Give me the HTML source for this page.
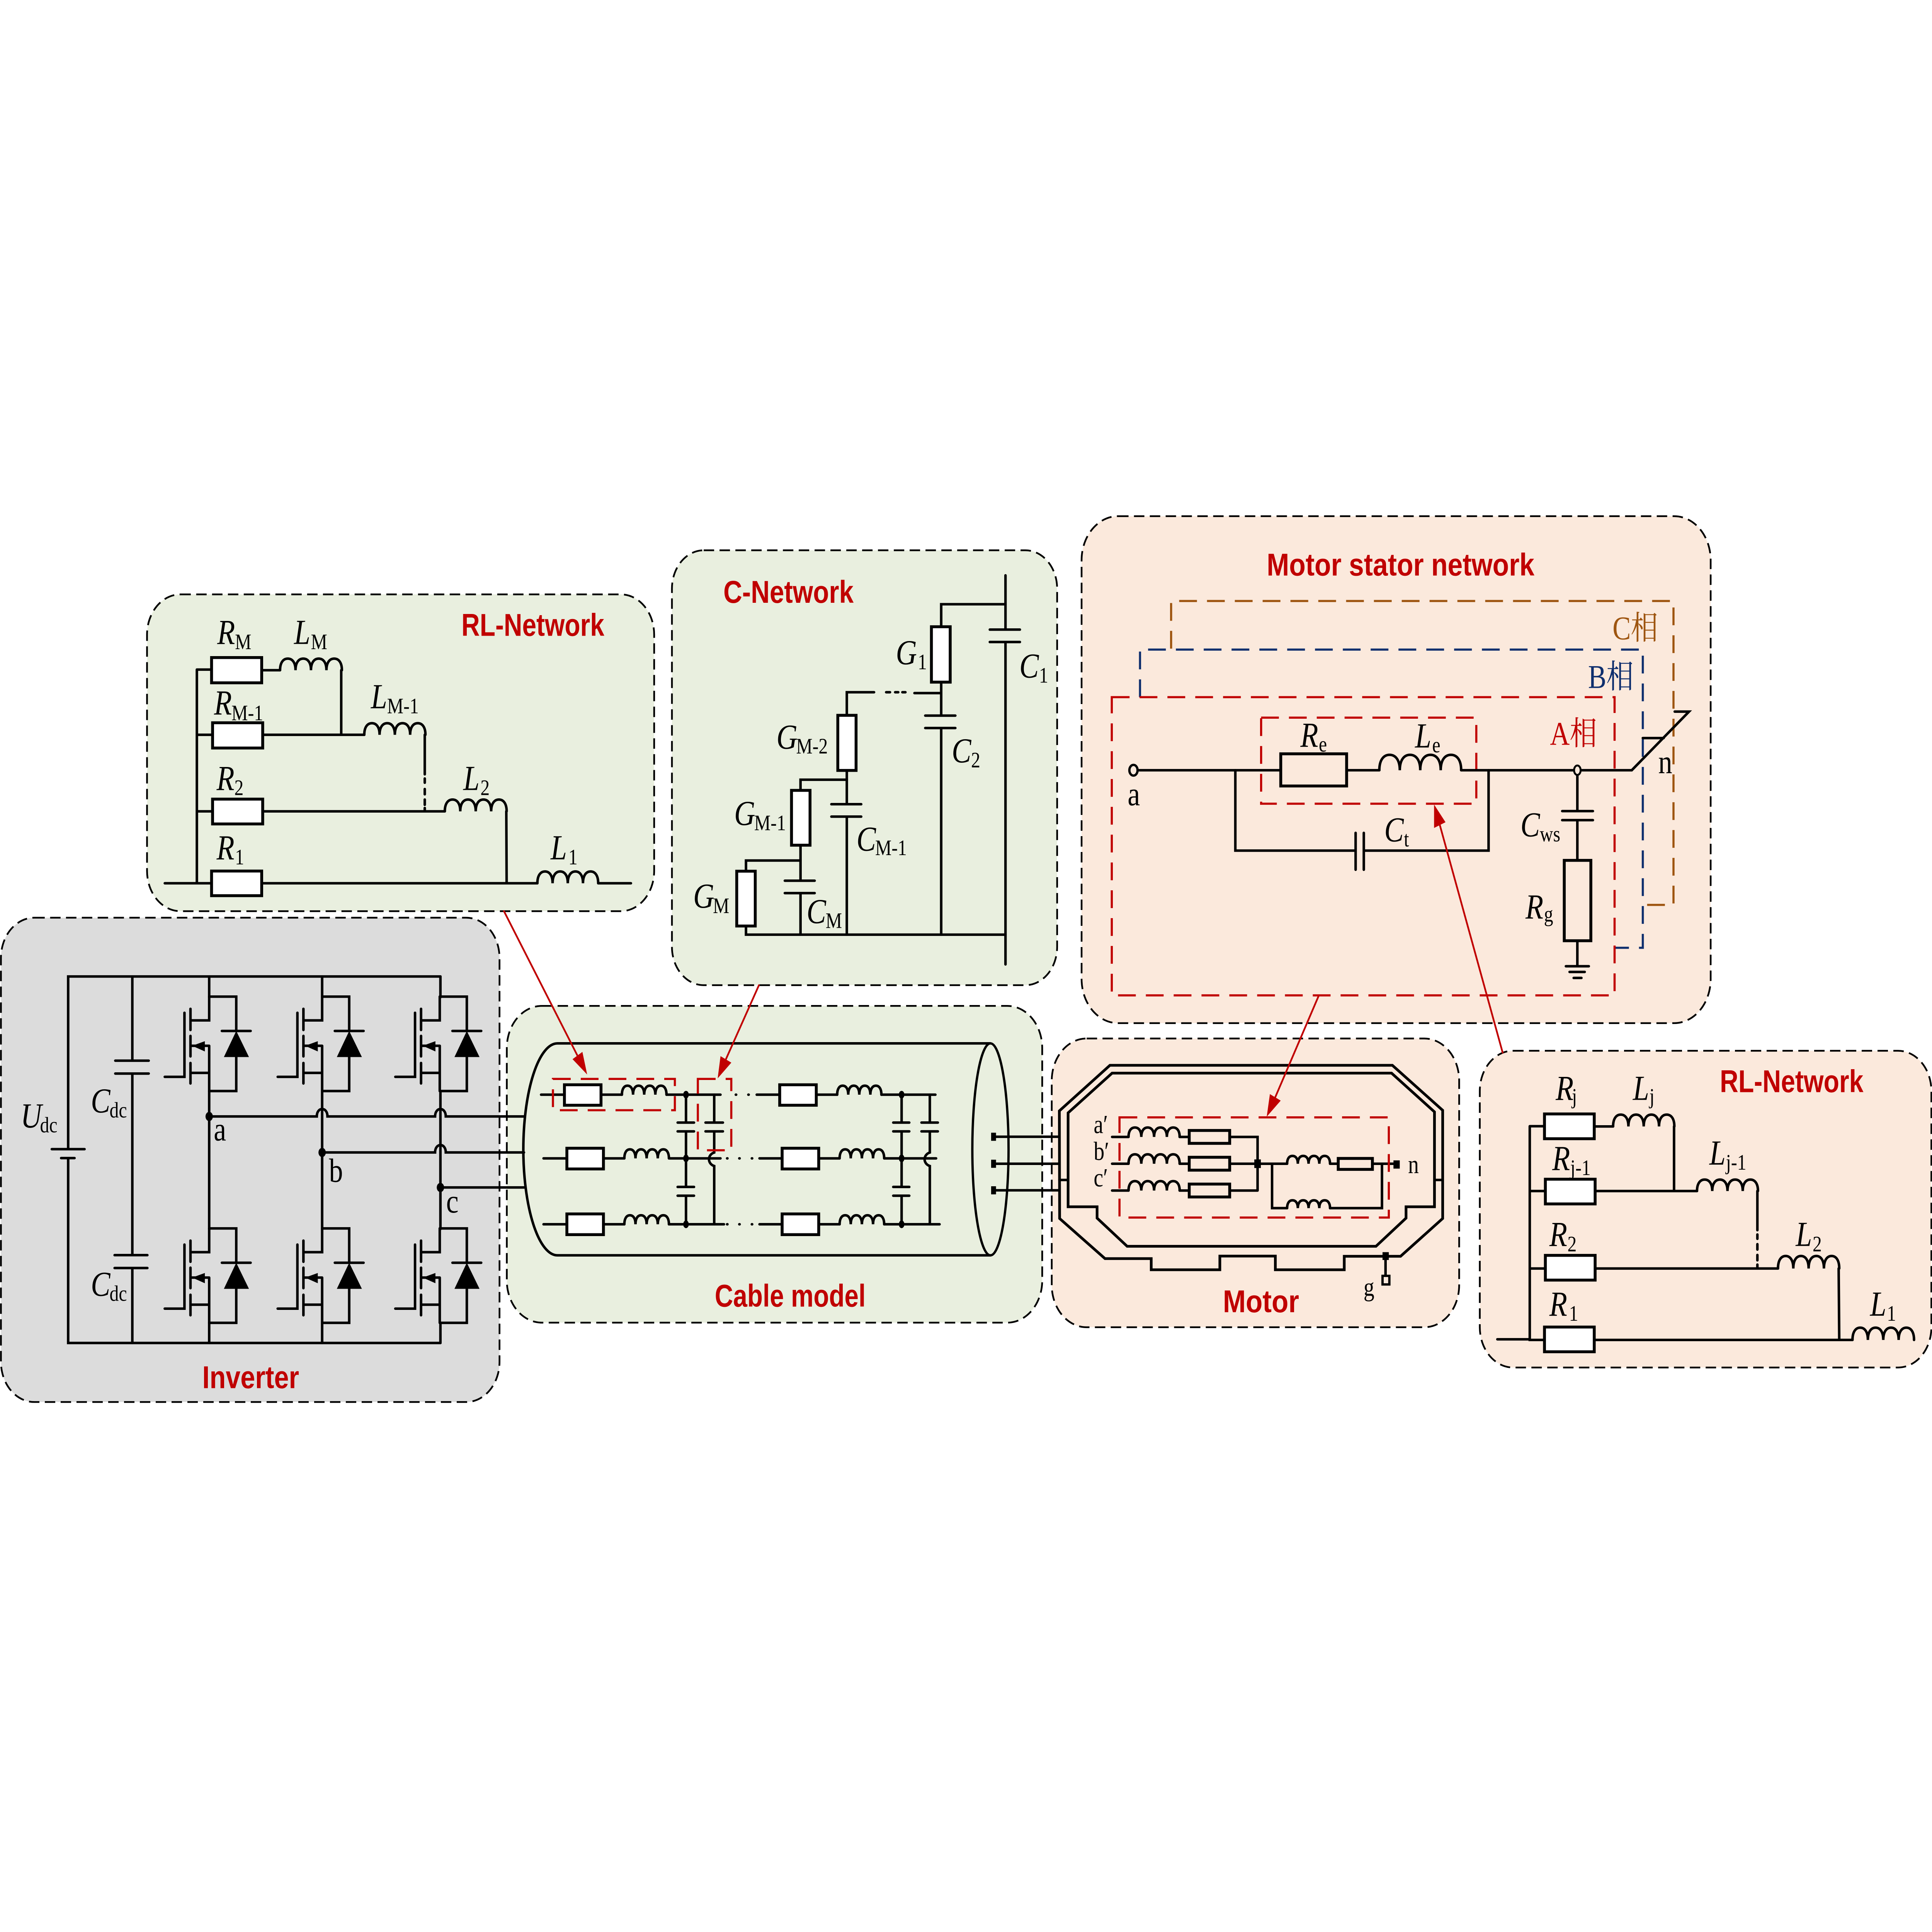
<!DOCTYPE html>
<html>
<head>
<meta charset="utf-8">
<style>
html,body{margin:0;padding:0;background:#fff;width:100%;height:100%;overflow:hidden}
svg{display:block;width:100vw;height:100vh}
svg *{vector-effect:non-scaling-stroke}
path,line,polyline{fill:none;stroke:#000;stroke-width:6.5;stroke-linecap:round;stroke-linejoin:miter}
rect.r{fill:#fff;stroke:#000;stroke-width:7.5}
.f{fill:#000;stroke:none}
.box{stroke:#000;stroke-width:4.5;stroke-dasharray:27 14}
.rd{fill:none;stroke:#C00000;stroke-width:5.5;stroke-dasharray:46 26;stroke-linecap:butt}
.bl{fill:none;stroke:#0F2F6E;stroke-width:5.5;stroke-dasharray:46 26;stroke-linecap:butt}
.br{fill:none;stroke:#9E5510;stroke-width:5.5;stroke-dasharray:46 26;stroke-linecap:butt}
.ar{stroke:#C00000;stroke-width:4.5}
.at{fill:#C00000;stroke:none}
.i{font:italic 92px "Liberation Serif",serif;fill:#000}
.s{font:58px "Liberation Serif",serif;fill:#000}
.t{font:88px "Liberation Serif",serif;fill:#000}
.k{font:68px "Liberation Serif",serif;fill:#000}
.h{font:bold 82px "Liberation Sans",sans-serif;fill:#C00000}
.p{font:86px "Liberation Serif","Noto Serif CJK SC",serif}
</style>
</head>
<body>
<svg xmlns="http://www.w3.org/2000/svg" viewBox="0 0 6084 5038" preserveAspectRatio="none">
<defs>
<path id="L" d="M0,0C0,-65 5,-100 12.5,-100C20,-100 25,-65 25,0C25,-65 30,-100 37.5,-100C45,-100 50,-65 50,0C50,-65 55,-100 62.5,-100C70,-100 75,-65 75,0C75,-65 80,-100 87.5,-100C95,-100 100,-65 100,0"/>
<g id="sw">
<path d="M0,-2H81V102M38,102H124M81,181V284H0"/>
<polygon class="f" points="81,102 44,181 119,181"/>
<path d="M0,-2V70H-56M-56,229H0M0,147H-56M0,147V284M-56,35V99M-56,117V179M-56,199V261M-74,47V241H-133"/>
<polygon class="f" points="-51,147 -13,133 -13,164"/>
</g>
</defs>
<rect width="6084" height="5038" fill="#fff"/>

<!-- panels -->
<rect class="box" x="463" y="1550" width="1597" height="826" rx="105" fill="#E9EFDF"/>
<rect class="box" x="2116" y="1435" width="1213" height="1134" rx="100" fill="#E9EFDF"/>
<rect class="box" x="3406" y="1346" width="1981" height="1322" rx="115" fill="#FBE9DC"/>
<rect class="box" x="1596" y="2623" width="1686" height="826" rx="110" fill="#E9EFDF"/>
<rect class="box" x="3" y="2393" width="1570" height="1263" rx="105" fill="#DCDCDC"/>
<rect class="box" x="3312" y="2708" width="1283" height="753" rx="110" fill="#FBE9DC"/>
<rect class="box" x="4660" y="2740" width="1422" height="826" rx="105" fill="#FBE9DC"/>

<!-- inverter -->
<g transform="translate(0,2350) scale(1.0523,0.861)">
<path d="M204,750V228H1318M204,778V1338H1318M155,751H253M183,778H223"/>
<path d="M396,228V483M345,483H445M345,522H445M396,522V1072M343,1072H441M343,1111H441M396,1111V1338"/>
<path d="M626,228V291M626,575V993M626,1277V1338M964,228V291M964,575V993M964,1277V1338M1318,228V291M1318,575V993M1318,1277V1338"/>
<use href="#sw" transform="translate(626,291)"/>
<use href="#sw" transform="translate(964,291)"/>
<use href="#sw" transform="translate(1316,291)"/>
<use href="#sw" transform="translate(626,993)"/>
<use href="#sw" transform="translate(964,993)"/>
<use href="#sw" transform="translate(1316,993)"/>
<path d="M626,652H948C948,622 980,622 980,652H1302C1302,622 1334,622 1334,652H1568"/>
<path d="M964,761H1302C1302,731 1334,731 1334,761H1568"/>
<path d="M1318,867H1568"/>
<ellipse class="f" cx="626" cy="652" rx="11" ry="14"/>
<ellipse class="f" cx="964" cy="761" rx="11" ry="14"/>
<ellipse class="f" cx="1318" cy="867" rx="11" ry="14"/>
</g>
<text class="i" x="65" y="2940">U</text><text class="s" x="126" y="2953">dc</text>
<text class="i" x="286" y="2901">C</text><text class="s" x="345" y="2914">dc</text>
<text class="i" x="286" y="3379">C</text><text class="s" x="345" y="3392">dc</text>
<text class="t" x="673" y="2974">a</text>
<text class="t" x="1036" y="3082">b</text>
<text class="t" x="1405" y="3162">c</text>
<text class="h" x="637" y="3620" textLength="305" lengthAdjust="spacingAndGlyphs">Inverter</text>

<!-- RL top -->
<g transform="translate(440,1520) scale(1.0523,0.5485)">
<path d="M75,1428H215M365,1428H1190M1372,1428H1470M171,412V1428M171,412H215M365,415H420M603,415V722M171,722H218M368,722H672M853,722V910M171,1086H218M368,1086H913M1097,1086L1098,1428"/>
<path d="M853,930V950M853,980V1005M853,1030V1055M853,1070V1085"/>
<rect class="r" x="215" y="1370" width="150" height="117"/>
<rect class="r" x="215" y="355" width="150" height="120"/>
<rect class="r" x="218" y="665" width="150" height="120"/>
<rect class="r" x="218" y="1028" width="150" height="118"/>
<use href="#L" transform="translate(420,415) scale(1.85,.55)"/>
<use href="#L" transform="translate(672,722) scale(1.83,.55)"/>
<use href="#L" transform="translate(913,1086) scale(1.85,.56)"/>
<use href="#L" transform="translate(1190,1428) scale(1.82,.56)"/>
</g>
<text class="h" x="1453" y="1658" textLength="450" lengthAdjust="spacingAndGlyphs">RL-Network</text>
<text class="i" x="684" y="1679">R</text><text class="s" x="740" y="1693">M</text>
<text class="i" x="926" y="1679">L</text><text class="s" x="979" y="1693">M</text>
<text class="i" x="674" y="1863">R</text><text class="s" x="729" y="1878">M-1</text>
<text class="i" x="1168" y="1847">L</text><text class="s" x="1219" y="1860">M-1</text>
<text class="i" x="682" y="2060">R</text><text class="s" x="738" y="2073">2</text>
<text class="i" x="1459" y="2060">L</text><text class="s" x="1513" y="2073">2</text>
<text class="i" x="682" y="2241">R</text><text class="s" x="740" y="2254">1</text>
<text class="i" x="1734" y="2241">L</text><text class="s" x="1790" y="2254">1</text>

<!-- C network -->
<g transform="translate(2090,1410) scale(0.8099,0.7526)">
<path d="M1329,120V308M1268,308H1385M1268,351H1385M1329,351V1468"/>
<path d="M1329,220H1079V298M1079,490V606M1017,606H1134M1017,649H1134M1079,649V1365"/>
<path d="M975,528H1079M865,525H880M900,525H912M928,525H940M818,525H712V605"/>
<path d="M712,796V913M652,913H768M652,956H768M712,956V1365"/>
<path d="M712,828H532V865M532,1055V1178M471,1178H587M471,1221H587M532,1221V1365"/>
<path d="M532,1108H320V1145M320,1335V1365H1329"/>
<rect class="r" x="1041" y="298" width="73" height="192"/>
<rect class="r" x="677" y="605" width="71" height="191"/>
<rect class="r" x="497" y="865" width="72" height="190"/>
<rect class="r" x="284" y="1145" width="72" height="190"/>
</g>
<text class="h" x="2278" y="1572" textLength="410" lengthAdjust="spacingAndGlyphs">C-Network</text>
<text class="i" x="2821" y="1732">G</text><text class="s" x="2890" y="1745">1</text>
<text class="i" x="3210" y="1767">C</text><text class="s" x="3272" y="1780">1</text>
<text class="i" x="2997" y="1988">C</text><text class="s" x="3058" y="2001">2</text>
<text class="i" x="2445" y="1952">G</text><text class="s" x="2507" y="1965">M-2</text>
<text class="i" x="2312" y="2151">G</text><text class="s" x="2375" y="2165">M-1</text>
<text class="i" x="2697" y="2218">C</text><text class="s" x="2756" y="2230">M-1</text>
<text class="i" x="2183" y="2367">G</text><text class="s" x="2245" y="2381">M</text>
<text class="i" x="2540" y="2407">C</text><text class="s" x="2600" y="2420">M</text>

<!-- Stator network -->
<g transform="translate(3380,1320) scale(1.2883,0.8737)">
<polyline class="br" points="239,425 239,283 1467,283 1467,1190 1395,1190"/>
<polyline class="bl" points="163,570 163,428 1392,428 1392,1318 1325,1318"/>
<rect class="rd" x="94" y="570" width="1229" height="890"/>
<rect class="rd" x="459" y="631" width="526" height="257"/>
<path d="M158,788H507M668,788H748M948,788H1222M1241,788H1365L1505,613H1470M1392,692H1443"/>
<path d="M396,788V1028H690M690,975V1085M710,975V1085M710,1028H1015V788"/>
<path d="M1232,802V910M1195,910H1270M1195,937H1270M1232,937V1057M1232,1297V1373M1204,1373H1260M1213,1390H1250M1223,1408H1242"/>
<ellipse cx="147" cy="788" rx="10" ry="16" fill="#FBE9DC" stroke="#000" stroke-width="6"/>
<ellipse cx="1232" cy="788" rx="8" ry="14" fill="#FBE9DC" stroke="#000" stroke-width="5"/>
<rect class="r" x="507" y="739" width="161" height="96" style="fill:#FBE9DC"/>
<rect class="r" x="1200" y="1057" width="65" height="240" style="fill:#FBE9DC"/>
<use href="#L" transform="translate(748,788) scale(2,.46)"/>
</g>
<text class="h" x="3989" y="1501" textLength="843" lengthAdjust="spacingAndGlyphs">Motor stator network</text>
<text class="p" x="5078" y="1667" fill="#9E5510">C相</text>
<text class="p" x="5001" y="1794" fill="#0F2F6E">B相</text>
<text class="p" x="4881" y="1942" fill="#C00000">A相</text>
<text class="t" x="3551" y="2100">a</text>
<text class="t" x="5222" y="2016">n</text>
<text class="i" x="4095" y="1947">R</text><text class="s" x="4153" y="1960">e</text>
<text class="i" x="4456" y="1949">L</text><text class="s" x="4510" y="1962">e</text>
<text class="i" x="4359" y="2194">C</text><text class="s" x="4421" y="2207">t</text>
<text class="i" x="4788" y="2181">C</text><text class="s" x="4849" y="2194">ws</text>
<text class="i" x="4804" y="2395">R</text><text class="s" x="4862" y="2403">g</text>

<!-- Cable -->
<g transform="translate(1580,2580) scale(1.0969,0.5867)">
<path d="M160,240H1403M160,1182H1403M160,240A98,471 0 0 0 160,1182"/>
<ellipse cx="1403" cy="711" rx="52" ry="471" fill="none" stroke="#000" stroke-width="6"/>
<path d="M1418,655H1601M1418,775H1601M1418,893H1601"/>
<rect class="f" x="1405" y="637" width="14" height="36"/>
<rect class="f" x="1405" y="757" width="14" height="36"/>
<rect class="f" x="1405" y="875" width="14" height="36"/>
<path d="M113,468H180M285,468H345M473,468H628M732,468H798M903,468H963M1090,468H1245"/>
<path d="M120,751H187M292,751H352M480,751H628M740,751H805M910,751H970M1098,751H1247"/>
<path d="M120,1044H187M292,1044H352M480,1044H638M740,1044H805M910,1044H970M1098,1044H1257"/>
<path d="M672,468H673M708,468H709M647,751H648M682,751H683M718,751H719M647,1044H648M682,1044H683M718,1044H719"/>
<path d="M529,468V592M505,592H552M505,631H552M529,631V878M505,878H552M505,917H552M529,917V1044"/>
<path d="M610,468V592M585,592H635M585,631H635M610,631V725C590,735 590,775 610,785V1044"/>
<path d="M1148,468V592M1124,592H1170M1124,631H1170M1148,631V878M1124,878H1170M1124,917H1170M1148,917V1044"/>
<path d="M1229,468V592M1205,592H1252M1205,631H1252M1229,631V725C1209,735 1209,775 1229,785V1044"/>
<ellipse class="f" cx="529" cy="468" rx="8" ry="17"/>
<ellipse class="f" cx="529" cy="751" rx="8" ry="17"/>
<ellipse class="f" cx="529" cy="1044" rx="8" ry="17"/>
<ellipse class="f" cx="1148" cy="468" rx="8" ry="17"/>
<ellipse class="f" cx="1148" cy="751" rx="8" ry="17"/>
<ellipse class="f" cx="1148" cy="1044" rx="8" ry="17"/>
<rect class="r" x="180" y="424" width="105" height="91"/>
<rect class="r" x="798" y="424" width="105" height="91"/>
<rect class="r" x="187" y="706" width="105" height="92"/>
<rect class="r" x="805" y="706" width="105" height="92"/>
<rect class="r" x="187" y="998" width="105" height="92"/>
<rect class="r" x="805" y="998" width="105" height="92"/>
<use href="#L" transform="translate(345,468) scale(1.28,.4)"/>
<use href="#L" transform="translate(963,468) scale(1.27,.4)"/>
<use href="#L" transform="translate(352,751) scale(1.28,.4)"/>
<use href="#L" transform="translate(970,751) scale(1.28,.4)"/>
<use href="#L" transform="translate(352,1044) scale(1.28,.4)"/>
<use href="#L" transform="translate(970,1044) scale(1.28,.4)"/>
<rect class="rd" x="147" y="398" width="350" height="139"/>
<rect class="rd" x="563" y="398" width="96" height="317"/>
</g>
<text class="h" x="2251" y="3407" textLength="475" lengthAdjust="spacingAndGlyphs">Cable model</text>

<!-- Motor -->
<g transform="translate(3280,2680) scale(0.861,0.5102)">
<path style="stroke-width:7" d="M65,425L250,192H1283L1467,422V975L1313,1168H1107V1237H855V1167H652V1237H401V1180H232L66,975Z"/>
<path style="stroke-width:7" d="M97,435L258,232H1280L1437,430V915H1333V973L1223,1117H313L203,973V915H97Z"/>
<path d="M65,778H97M1437,778H1467"/>
<path d="M258,558H318M505,558H540M688,558H790V832M258,695H318M505,695H540M688,695H898M258,832H318M505,832H540M688,832H790"/>
<path d="M1055,695H1085M1210,695H1290M843,695V922H898M1055,922H1245V695M1258,1187V1268"/>
<rect class="r" x="540" y="525" width="148" height="66" style="fill:#FBE9DC"/>
<rect class="r" x="540" y="662" width="148" height="66" style="fill:#FBE9DC"/>
<rect class="r" x="540" y="799" width="148" height="66" style="fill:#FBE9DC"/>
<rect class="r" x="1085" y="668" width="125" height="56" style="fill:#FBE9DC"/>
<use href="#L" transform="translate(318,558) scale(1.87,.48)"/>
<use href="#L" transform="translate(318,695) scale(1.87,.48)"/>
<use href="#L" transform="translate(318,832) scale(1.87,.48)"/>
<use href="#L" transform="translate(898,695) scale(1.57,.4)"/>
<use href="#L" transform="translate(898,922) scale(1.57,.4)"/>
<rect class="f" x="778" y="673" width="24" height="44"/>
<rect class="f" x="1287" y="678" width="23" height="42"/>
<rect class="f" x="1247" y="1147" width="23" height="40"/>
<rect x="1247" y="1268" width="25" height="44" fill="#FBE9DC" stroke="#000" stroke-width="6"/>
<rect class="rd" x="285" y="458" width="985" height="512"/>
</g>
<text class="k" x="3444" y="2955">a′</text>
<text class="k" x="3444" y="3025">b′</text>
<text class="k" x="3444" y="3094">c′</text>
<text class="k" x="4434" y="3059">n</text>
<text class="k" x="4294" y="3379">g</text>
<text class="h" x="3851" y="3422" textLength="240" lengthAdjust="spacingAndGlyphs">Motor</text>

<!-- RL right -->
<g transform="translate(4630,2700) scale(0.9273,0.5612)">
<path d="M92,1412H202V1415H252M421,1415H1298M202,422V1415M202,422H252M421,423H485M692,423V722M202,723H255M424,723H770M975,723V905M202,1083H255M424,1083H1045M1251,1083L1253,1415"/>
<path d="M975,925V945M975,970V995M975,1020V1045M975,1065V1083"/>
<rect class="r" x="252" y="1355" width="169" height="115" style="fill:#fff"/>
<rect class="r" x="252" y="365" width="169" height="115"/>
<rect class="r" x="255" y="668" width="169" height="115"/>
<rect class="r" x="255" y="1022" width="169" height="115"/>
<use href="#L" transform="translate(485,423) scale(2.08,.55)"/>
<use href="#L" transform="translate(770,723) scale(2.07,.53)"/>
<use href="#L" transform="translate(1045,1083) scale(2.08,.58)"/>
<use href="#L" transform="translate(1298,1415) scale(2.09,.57)"/>
</g>
<text class="h" x="5416" y="2848" textLength="452" lengthAdjust="spacingAndGlyphs">RL-Network</text>
<text class="i" x="4899" y="2868">R</text><text class="s" x="4950" y="2878">j</text>
<text class="i" x="5142" y="2868">L</text><text class="s" x="5194" y="2878">j</text>
<text class="i" x="4888" y="3051">R</text><text class="s" x="4945" y="3064">j-1</text>
<text class="i" x="5383" y="3037">L</text><text class="s" x="5435" y="3050">j-1</text>
<text class="i" x="4879" y="3249">R</text><text class="s" x="4936" y="3263">2</text>
<text class="i" x="5655" y="3249">L</text><text class="s" x="5708" y="3263">2</text>
<text class="i" x="4879" y="3431">R</text><text class="s" x="4941" y="3444">1</text>
<text class="i" x="5889" y="3431">L</text><text class="s" x="5942" y="3444">1</text>

<!-- arrows -->
<line class="ar" x1="1587" y1="2376" x2="1818" y2="2752"/>
<polygon class="at" points="1849,2802 1803,2762 1834,2743"/>
<line class="ar" x1="2390" y1="2569" x2="2286" y2="2762"/>
<polygon class="at" points="2260,2812 2269,2754 2303,2771"/>
<line class="ar" x1="4153" y1="2596" x2="4016" y2="2861"/>
<polygon class="at" points="3989,2912 3999,2853 4033,2870"/>
<line class="ar" x1="4732" y1="2745" x2="4534" y2="2151"/>
<polygon class="at" points="4516,2098 4516,2159 4552,2144"/>
</svg>
</body>
</html>
